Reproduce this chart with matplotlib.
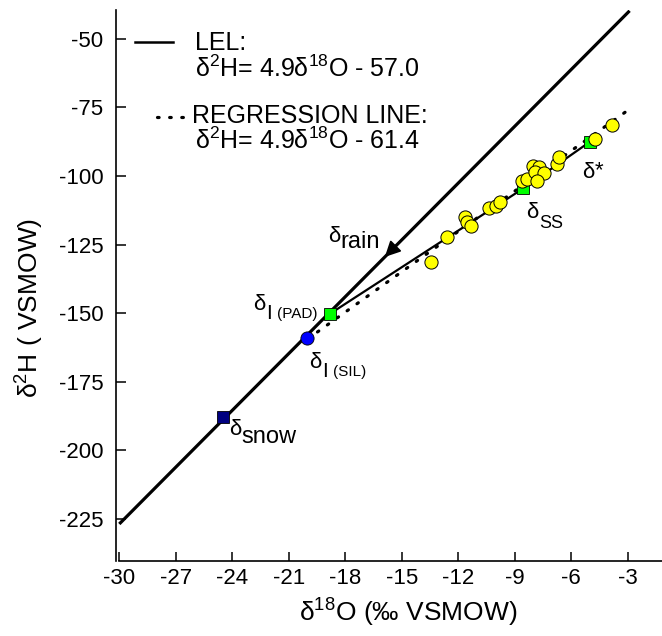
import matplotlib
matplotlib.use("Agg")
import matplotlib.pyplot as plt
import numpy as np

plt.rcParams['font.family'] = ['Liberation Sans', 'DejaVu Sans']
plt.rcParams['mathtext.default'] = 'regular'
plt.rcParams['axes.unicode_minus'] = False

# lake water samples (yellow circles)
lake_o18 = [-13.46, -12.58, -11.63, -11.53, -11.30, -10.35, -9.98, -9.80,
            -8.63, -8.36, -8.01, -7.71, -7.92, -7.42, -7.82, -6.74, -6.66,
            -4.76, -3.83]
lake_h2 = [-131.2, -122.1, -115.1, -116.6, -118.1, -111.5, -110.8, -109.5,
           -101.7, -101.2, -96.2, -96.9, -98.5, -98.8, -101.8, -95.8, -93.1,
           -86.6, -81.4]

# modelled evaporation path: delta_I(PAD) -> delta_SS -> delta*
evap_o18 = [-18.81, -8.54, -5.00]
evap_h2 = [-150.2, -104.5, -87.5]

sil_pt = (-20.02, -159.1)
snow_pt = (-24.51, -187.7)

# meteoric water line
mwl_slope, mwl_int = 6.9, -19.8
mwl_o18 = np.array([-30.0, -2.9])
rain_tip = -15.9

# regression through lake samples
reg_slope, reg_int = 4.9, -61.4
reg_o18 = np.array([-20.0, -3.0])

xticks = list(range(-30, 0, 3))
yticks = list(range(-225, -49, 25))

fig = plt.figure(figsize=(6.62, 6.36), dpi=100)
ax = fig.add_axes([0.1748, 0.1179, 0.8252, 0.8656])
ax.set_xlim(-30.19, -1.18)
ax.set_ylim(-240.3, -39.7)

ax.plot(mwl_o18, mwl_slope * mwl_o18 + mwl_int, color='black', lw=2.3,
        solid_capstyle='butt', zorder=2)
ax.annotate('', xy=(rain_tip, mwl_slope * rain_tip + mwl_int),
            xytext=(rain_tip + 1.0, mwl_slope * (rain_tip + 1.0) + mwl_int),
            arrowprops=dict(arrowstyle='-|>', color='black', lw=1.2,
                            shrinkA=0, shrinkB=0, mutation_scale=24),
            zorder=3)
ax.plot(evap_o18, evap_h2, color='black', lw=1.6, zorder=2)
ax.plot(reg_o18, reg_slope * reg_o18 + reg_int, color='black', lw=2.3,
        linestyle=(0, (0.5, 3.3)), dash_capstyle='round', zorder=2)

ax.plot(evap_o18, evap_h2, linestyle='none', marker='s', ms=8,
        mfc='#00ff00', mec='black', mew=0.6, zorder=4)
ax.plot(lake_o18, lake_h2, linestyle='none', marker='o', ms=9.5,
        mfc='#ffff00', mec='black', mew=0.7, zorder=5)
ax.plot(*sil_pt, linestyle='none', marker='o', ms=9.5,
        mfc='#0000ff', mec='black', mew=0.6, zorder=5)
ax.plot(*snow_pt, linestyle='none', marker='s', ms=8.5,
        mfc='#000080', mec='black', mew=0.6, zorder=5)


def delta_label(xy, offset, sub, drop, sub_size=17, size=16):
    d = ax.annotate('δ', xy=xy, xytext=offset, textcoords='offset points',
                    fontsize=size, ha='left', va='baseline', zorder=6)
    s = ax.annotate(sub, xy=(1, 0), xycoords=d, xytext=(0.3, -drop),
                    textcoords='offset points', fontsize=sub_size,
                    ha='left', va='bottom', zorder=6)
    return d, s


rain_xy = (rain_tip, mwl_slope * rain_tip + mwl_int)
delta_label(rain_xy, (-41, 11), 'rain', 4.3)
delta_label(snow_pt, (4.5, -13.2), 'snow', 5.8)
delta_label((evap_o18[1], evap_h2[1]), (1.9, -21.4), 'SS', 6.5, sub_size=13)
d, _ = delta_label((evap_o18[2], evap_h2[2]), (-5.8, -26.1), '', 0)
ax.annotate('*', xy=(1, 1), xycoords=d, xytext=(0.5, 1), textcoords='offset points',
            fontsize=16, ha='left', va='top')
_, s = delta_label((evap_o18[0], evap_h2[0]), (-55.4, 2.7), 'I', 5.8, sub_size=15)
ax.annotate('(PAD)', xy=(1, 0), xycoords=s, xytext=(4, 1.5),
            textcoords='offset points', fontsize=11, ha='left', va='bottom')
_, s = delta_label(sil_pt, (1.2, -21.4), 'I', 5.8, sub_size=15)
ax.annotate('(SIL)', xy=(1, 0), xycoords=s, xytext=(4, 1.5),
            textcoords='offset points', fontsize=11, ha='left', va='bottom')

# legend drawn by hand, line samples next to the -50 and -75 ticks
ax.plot([0.0353, 0.1049], [0.9433, 0.9433], transform=ax.transAxes,
        color='black', lw=1.8, clip_on=False)
ax.plot([0.0760, 0.1269], [0.8065, 0.8065], transform=ax.transAxes,
        color='black', lw=2.3, linestyle=(0, (0.5, 3.3)),
        dash_capstyle='round', clip_on=False)
leg_kw = dict(transform=ax.transAxes, fontsize=18, ha='left', va='baseline')
ax.text(0.1452, 0.9283, 'LEL:', **leg_kw)
ax.text(0.1452, 0.8797, 'δ$^2$H= 4.9δ$^{18}$O - 57.0', **leg_kw)
ax.text(0.1391, 0.7951, 'REGRESSION LINE:', **leg_kw)
ax.text(0.1452, 0.7484, 'δ$^2$H= 4.9δ$^{18}$O - 61.4', **leg_kw)

ax.set_xticks(xticks)
ax.set_yticks(yticks)
ax.tick_params(axis='both', direction='in', labelsize=16, width=1.1)
ax.tick_params(axis='x', length=6.5, pad=5)
ax.tick_params(axis='y', length=7, pad=9)
for side in ('top', 'right'):
    ax.spines[side].set_visible(False)
for side in ('left', 'bottom'):
    ax.spines[side].set_linewidth(1.2)
ax.spines['bottom'].set_bounds(-30, -1.18)

ax.set_xlabel('δ$^{18}$O (‰ VSMOW)', fontsize=19)
ax.set_ylabel('δ$^2$H ( VSMOW)', fontsize=19)
ax.xaxis.set_label_coords(0.535, -0.065)
ax.yaxis.set_label_coords(-0.128, 0.46)

fig.savefig('out.png', dpi=100)
